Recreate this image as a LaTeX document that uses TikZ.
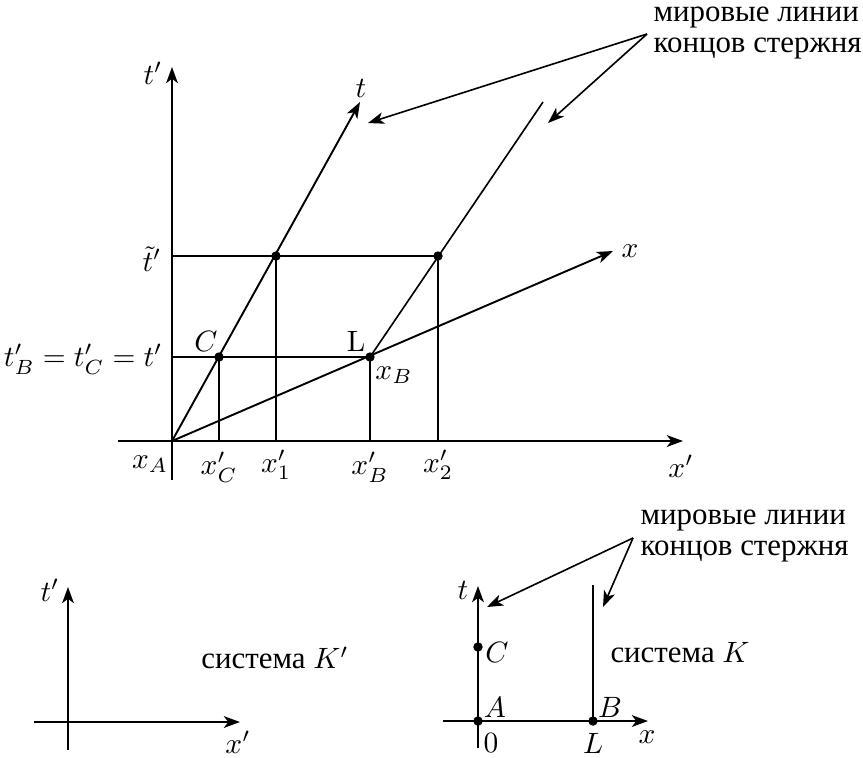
\documentclass[tikz,border=0pt]{standalone}
\usepackage{fontspec}
\newfontfamily\cyr{Liberation Serif}[Scale=1.05]
\usepackage{amsmath}
\usepackage{tikz}
\usetikzlibrary{positioning, arrows.meta, shapes, calc}

\tikzset{
  dot/.style={circle, fill, inner sep=0pt, minimum size=3.2pt},
  axis/.style={line width=0.65pt, -{Stealth[length=5.5pt, width=4pt, inset=1.5pt]}},
  wline/.style={line width=0.55pt},
  pointer/.style={line width=0.55pt, -{Stealth[length=5.5pt, width=4pt, inset=1.5pt]}},
  note/.style={align=left, inner sep=0pt, font=\fontsize{10}{10.6}\selectfont}
}

\begin{document}
\begin{tikzpicture}[x=0.34pt, y=-0.34pt]
\useasboundingbox (0,0) rectangle (863,757);

% upper diagram: K' axes and the moving frame
\coordinate (O) at (172,441);
\coordinate (tpBot) at (172,480);
\coordinate (tpTip) at (172,67);
\coordinate (xpLeft) at (118,441);
\coordinate (xpTip) at (683,441);
\coordinate (tTip) at (360,102);
\coordinate (xTip) at (613,251);
\coordinate (Btop) at (543,102);
\coordinate (tpB) at (172,357);
\coordinate (tpT) at (172,256);
\coordinate (C0) at (219,441);
\coordinate (P10) at (276,441);
\coordinate (L0) at (370,441);
\coordinate (P20) at (438,441);

\node[dot] (C) at (219,357) {};
\node[dot] (L) at (370,357) {};
\node[dot] (P1) at (276,256) {};
\node[dot] (P2) at (438,256) {};

\draw[axis] (tpBot) -- (tpTip);
\draw[axis] (xpLeft) -- (xpTip);
\draw[axis] (O) -- (tTip);
\draw[axis] (O) -- (xTip);
\draw[wline] (L.center) -- (Btop);
\draw[wline] (tpT) -- (P2.center);
\draw[wline] (tpB) -- (L.center);
\draw[wline] (C.center) -- (C0);
\draw[wline] (P1.center) -- (P10);
\draw[wline] (L.center) -- (L0);
\draw[wline] (P2.center) -- (P20);

\node (tpLabel) at (153,73) {$t'$};
\node (tLabel) at (361,88) {$t$};
\node (xLabel) at (630,251) {$x$};
\node (xpLabel) at (681,466) {$x'$};
\node[inner sep=1pt] (ttLabel) at (152,259) {$\tilde t'$};
\node[anchor=east, inner sep=1pt] (tBLabel) at (166,359) {$t'_B = t'_C = t'$};
\node (CLabel) at (206,341) {$C$};
\node (LLabel) at (356,341) {L};
\node (xBLabel) at (394,375) {$x_B$};
\node (xALabel) at (150,464) {$x_A$};
\node (xCLabel) at (219,467) {$x'_C$};
\node (x1Label) at (276,465) {$x'_1$};
\node (xBpLabel) at (370,467) {$x'_B$};
\node (x2Label) at (438,465) {$x'_2$};

\node[note, anchor=west] (linesTop) at (653,33) {\cyr мировые линии\\\cyr концов стержня};
\coordinate (hubTop) at (647,34);
\draw[pointer] (hubTop) -- (368,123);
\draw[pointer] (hubTop) -- (548,123);

% lower left: system K'
\coordinate (kpO) at (68,722);
\draw[axis] (68,750) -- (68,587) coordinate (kpT);
\draw[axis] (34,722) -- (240,722) coordinate (kpX);
\node (kpTLabel) at (50,590) {$t'$};
\node (kpXLabel) at (238,742) {$x'$};
\node (sysKp) at (275,658) {\cyr система $K'$};

% lower right: system K
\node[dot] (A) at (478,721) {};
\node[dot] (Cb) at (478,647) {};
\node[dot] (B) at (593,721) {};
\draw[axis] (478,748) -- (478,586) coordinate (kT);
\draw[axis] (443,721) -- (648,721) coordinate (kX);
\draw[wline] (B.center) -- (593,585);
\node (kTLabel) at (463,590) {$t$};
\node (kXLabel) at (647,737) {$x$};
\node (ALabel) at (495,707) {$A$};
\node (BLabel) at (610,707) {$B$};
\node (CbLabel) at (497,652) {$C$};
\node (zeroLabel) at (491,743) {$0$};
\node (LbLabel) at (593,743) {$L$};
\node (sysK) at (680,653) {\cyr система $K$};

\node[note, anchor=west] (linesBot) at (640,536) {\cyr мировые линии\\\cyr концов стержня};
\coordinate (hubBot) at (633,538);
\draw[pointer] (hubBot) -- (487,607);
\draw[pointer] (hubBot) -- (603,607);
\end{tikzpicture}
\end{document}
